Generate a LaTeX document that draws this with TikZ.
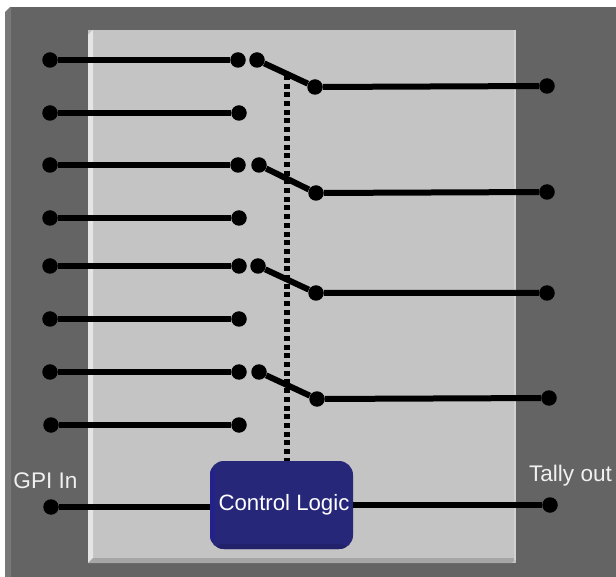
\documentclass[tikz,border=0pt]{standalone}
\usepackage{fontspec}
\setmainfont{Liberation Sans}
\definecolor{panelgrey}{HTML}{646464}
\definecolor{paneledge}{HTML}{787878}
\definecolor{cardgrey}{HTML}{C4C4C4}
\definecolor{logicblue}{HTML}{27277A}
\begin{document}
\begin{tikzpicture}[x=1pt, y=-1pt,
    terminal/.style={circle, fill=black, inner sep=0pt, minimum size=15.5pt},
    wire/.style={line width=6pt, black},
    tag/.style={text=white!94!black, font=\fontsize{22.6}{24}\selectfont, inner sep=0pt},
    logicbox/.style={rounded corners=14pt, fill=logicblue, inner sep=0pt, minimum width=143pt, minimum height=88pt,
        text=white, font=\fontsize{22.2}{24}\selectfont,
        path picture={
            \fill[blue!12!logicblue] (path picture bounding box.north west) rectangle ++(5pt,-88pt);
            \fill[logicblue!88!black] (path picture bounding box.south west) rectangle ++(143pt,5pt);
        }}]
    \useasboundingbox (0,0) rectangle (616,577);
    % panel and card
    \fill[panelgrey] (5,7) rectangle (616,577);
    \fill[paneledge] (5,12) -- (10,7) -- (11,7) -- (11,577) -- (5,577) -- cycle;
    \fill[white] (0,0) -- (10,0) -- (10,7) -- (5,12) -- (0,12) -- cycle;
    \fill[cardgrey] (88,30) rectangle (516,563);
    \fill[white!90!black] (88,35) -- (93,30) -- (93,558) -- (88,563) -- cycle;
    \fill[white!65!black] (88,563) -- (93,558) -- (516,558) -- (512,563) -- cycle;
    \fill[white!82!black] (514,30) rectangle (516,560);
    % inputs
    \node[terminal] (in1) at (50,60) {};
    \node[terminal] (in2) at (50,113) {};
    \node[terminal] (in3) at (50,165) {};
    \node[terminal] (in4) at (50,218) {};
    \node[terminal] (in5) at (50,266) {};
    \node[terminal] (in6) at (50,319) {};
    \node[terminal] (in7) at (50,372) {};
    \node[terminal] (in8) at (51,425) {};
    \node[terminal] (tap1) at (238,60) {};
    \node[terminal] (tap2) at (239,113) {};
    \node[terminal] (tap3) at (238,165) {};
    \node[terminal] (tap4) at (239,218) {};
    \node[terminal] (tap5) at (239,266) {};
    \node[terminal] (tap6) at (239,319) {};
    \node[terminal] (tap7) at (239,372) {};
    \node[terminal] (tap8) at (239,425) {};
    % switches
    \node[terminal] (arm1) at (257,60) {};
    \node[terminal] (arm2) at (259,165) {};
    \node[terminal] (arm3) at (258,266) {};
    \node[terminal] (arm4) at (259,372) {};
    \node[terminal] (hinge1) at (315,87) {};
    \node[terminal] (hinge2) at (316,193) {};
    \node[terminal] (hinge3) at (316,293) {};
    \node[terminal] (hinge4) at (317,399) {};
    \node[terminal] (out1) at (547,86) {};
    \node[terminal] (out2) at (547,192) {};
    \node[terminal] (out3) at (547,293) {};
    \node[terminal] (out4) at (549,398) {};
    % control
    \node[logicbox] (logic) at (281.5,505) {\hspace*{5pt}Control Logic};
    \node[terminal] (gpi) at (51,507) {};
    \node[terminal] (tally) at (550,505) {};
    \node[tag] (gpilabel) at (45.5,481) {GPI In};
    \node[tag] (tallylabel) at (570.5,476) {Tally out};
    \coordinate (linkend) at (287,75);
    \draw[wire] (in1) -- (tap1);
    \draw[wire] (in2) -- (tap2);
    \draw[wire] (in3) -- (tap3);
    \draw[wire] (in4) -- (tap4);
    \draw[wire] (in5) -- (tap5);
    \draw[wire] (in6) -- (tap6);
    \draw[wire] (in7) -- (tap7);
    \draw[wire] (in8) -- (tap8);
    \draw[wire] (arm1) -- (hinge1) -- (out1);
    \draw[wire] (arm2) -- (hinge2) -- (out2);
    \draw[wire] (arm3) -- (hinge3) -- (out3);
    \draw[wire] (arm4) -- (hinge4) -- (out4);
    \draw[wire] (gpi) -- (logic.west |- gpi);
    \draw[wire] (logic.east) -- (tally);
    \draw[line width=6pt, black, dash pattern=on 5pt off 3.7pt] (linkend) -- (logic.north -| linkend);
\end{tikzpicture}
\end{document}
